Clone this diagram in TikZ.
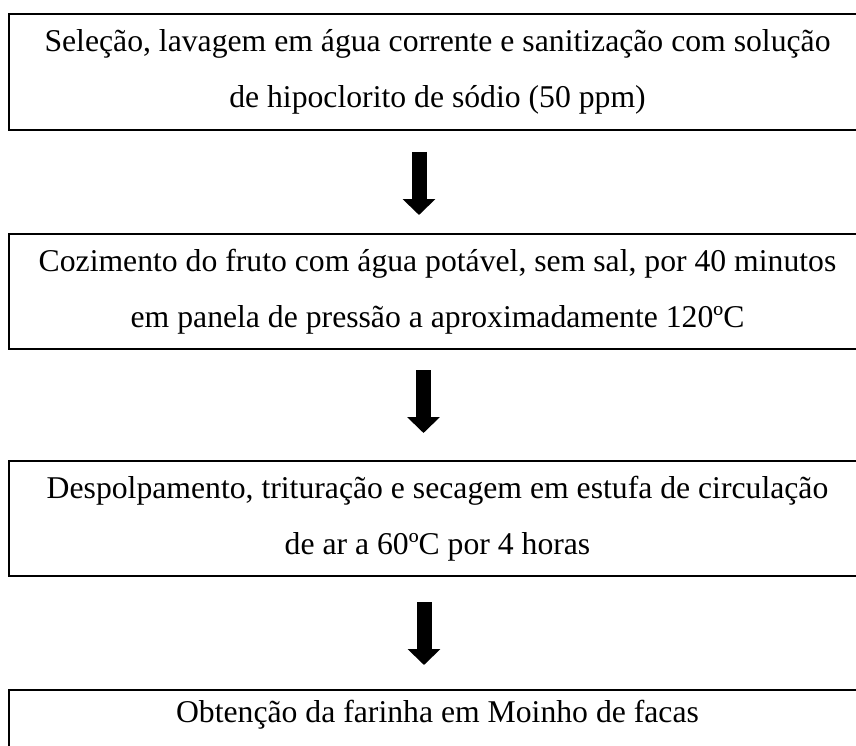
\documentclass[tikz,border=0pt]{standalone}
\usepackage{fontspec}
\setmainfont{Liberation Serif}
\usetikzlibrary{arrows.meta}
\begin{document}
\begin{tikzpicture}[x=1pt,y=1pt,
  box/.style={draw=black, line width=2pt, rectangle, minimum width=857pt, minimum height=115pt,
    align=center, inner sep=0pt, font=\fontsize{31.7}{56}\selectfont},
  arr/.style={line width=15pt, -{Triangle[length=16pt,width=32pt]}}]
\useasboundingbox (0,0) rectangle (856,-746);
\clip (0,0) rectangle (856,-746);
\node[box, minimum height=116pt] (b1) at (437.5,-72) {Seleção, lavagem em água corrente e sanitização com solução\\de hipoclorito de sódio (50 ppm)};
\node[box] (b2) at (437.5,-291.5) {Cozimento do fruto com água potável, sem sal, por 40 minutos\\em panela de pressão a aproximadamente 120ºC};
\node[box] (b3) at (437.5,-518.5) {Despolpamento, trituração e secagem em estufa de circulação\\de ar a 60ºC por 4 horas};
\node[box] (b4) at (437.5,-747.5) {Obtenção da farinha em Moinho de facas\\\strut};
\draw[arr] ([xshift=-18.5pt,yshift=-21pt]b1.south) -- ([xshift=-18.5pt,yshift=18pt]b2.north);
\draw[arr] ([xshift=-14pt,yshift=-20pt]b2.south) -- ([xshift=-14pt,yshift=27pt]b3.north);
\draw[arr] ([xshift=-13.5pt,yshift=-25pt]b3.south) -- ([xshift=-13.5pt,yshift=24pt]b4.north);
\end{tikzpicture}
\end{document}
